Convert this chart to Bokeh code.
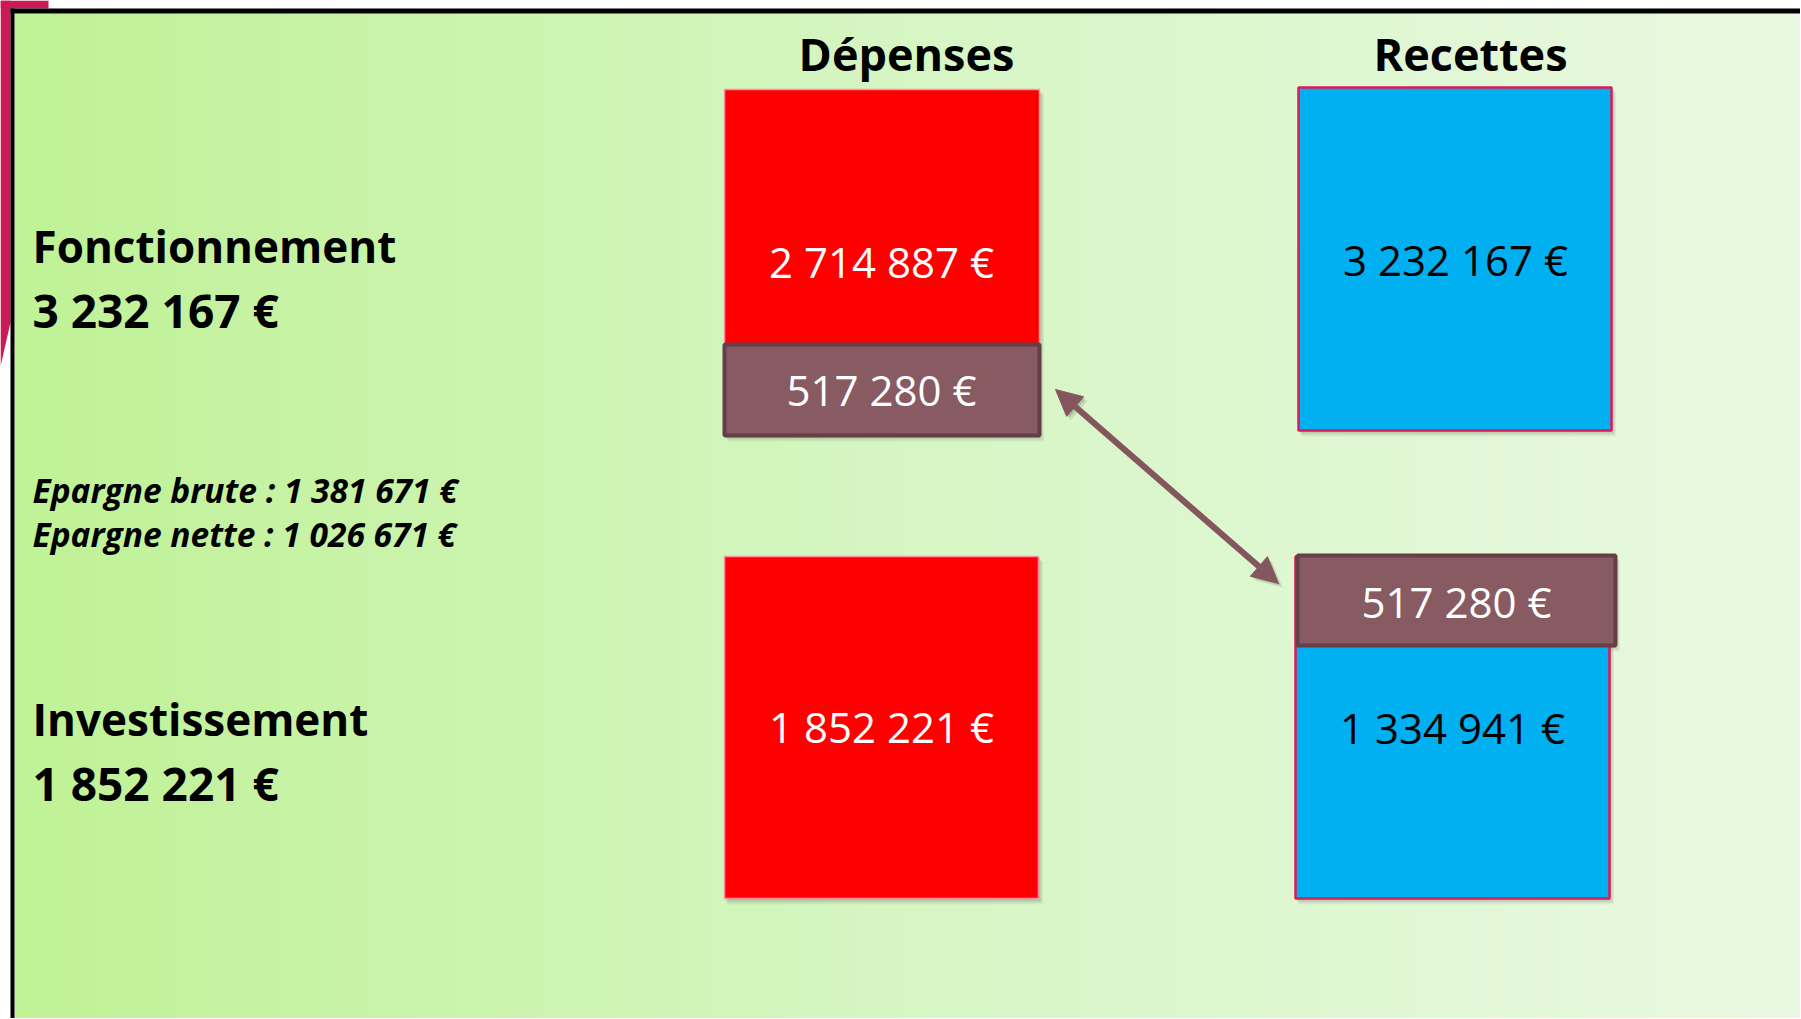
import numpy as np
from bokeh.plotting import figure
from bokeh.models import Range1d, Arrow, NormalHead
from bokeh.core.properties import value
from bokeh.embed import file_html
from bokeh.resources import INLINE

# ---------------- data ----------------
column_titles = ["Dépenses", "Recettes"]
sections = ["Fonctionnement", "Investissement"]
section_totals = [3232167, 1852221]
depenses = [2714887, 1852221]
recettes = [3232167, 1334941]
virement = 517280
epargne_labels = ["Epargne brute", "Epargne nette"]
epargne_values = [1381671, 1026671]


def fmt(v):
    return f"{v:,}".replace(",", " ") + " €"


# ---------------- layout (screen pixels) ----------------
W, H = 1800, 1018
X0, Y0 = 0, 0
FONT = value("Open Sans")

p = figure(width=W, height=H, output_backend="svg", toolbar_location=None,
           x_range=Range1d(X0, X0 + W), y_range=Range1d(Y0 + H, Y0),
           min_border=0, background_fill_color="white", border_fill_color="white")
p.axis.visible = False
p.grid.visible = False
p.outline_line_color = None

# background gradient
xs = np.arange(14, X0 + W + 1)
stops_x = [14, 900, 1800]
stops_r = [192, 214, 234]
stops_g = [242, 246, 249]
stops_b = [150, 196, 226]
r = np.interp(xs, stops_x, stops_r).astype(np.uint32)
g = np.interp(xs, stops_x, stops_g).astype(np.uint32)
b = np.interp(xs, stops_x, stops_b).astype(np.uint32)
row = (255 << 24) | (b << 16) | (g << 8) | r
img = np.vstack([row, row]).astype(np.uint32)
p.image_rgba(image=[img], x=14, y=13, dw=len(xs), dh=H + 10)

# frame lines and magenta strip
p.patch([0, 10, 10, 0], [0, 0, 322, 366], fill_color="#CC1A56", line_color=None)
p.patch([0, 48, 48, 0], [0, 0, 8, 8], fill_color="#CC1A56", line_color=None)
p.quad(left=[10], right=[X0 + W], top=[8], bottom=[13], fill_color="black", line_color=None)
p.quad(left=[10], right=[14], top=[8], bottom=[Y0 + H], fill_color="black", line_color=None)


def shadow(l, r_, t, b_):
    for k in range(1, 6):
        p.quad(left=[l + k * 0.6], right=[r_ + k * 0.9], top=[t + k], bottom=[b_ + k * 1.2],
               fill_color="black", fill_alpha=0.045, line_color=None)


RED, BLUE, BROWN = "#FF0000", "#00B0F0", "#885A62"
RED_EDGE, BLUE_EDGE, BROWN_EDGE = "#FF8FA6", "#DC1A5A", "#653E47"

boxes = [
    # left, right, top, bottom, fill, edge, width
    (724, 1039, 89, 344, RED, RED_EDGE, 1.5),
    (1298, 1611, 87, 430, BLUE, BLUE_EDGE, 2.5),
    (724, 1038, 556, 898, RED, RED_EDGE, 1.5),
    (1295, 1609, 556, 898, BLUE, BLUE_EDGE, 2.5),
    (724, 1039, 344, 435, BROWN, BROWN_EDGE, 4),
    (1297, 1615, 555, 645, BROWN, BROWN_EDGE, 4),
]
for (l, r_, t, b_, fc, lc, lw) in boxes:
    shadow(l, r_, t, b_)
for (l, r_, t, b_, fc, lc, lw) in boxes:
    p.quad(left=[l], right=[r_], top=[t], bottom=[b_], fill_color=fc,
           line_color=lc, line_width=lw)

# arrow (with soft shadow)
for k, a in [(4, 0.10), (2, 0.12)]:
    p.add_layout(Arrow(x_start=1055 + k, y_start=389 + k, x_end=1278 + k, y_end=583 + k,
                       line_color="black", line_alpha=a, line_width=6,
                       start=NormalHead(size=26, fill_color="black", fill_alpha=a, line_color=None),
                       end=NormalHead(size=26, fill_color="black", fill_alpha=a, line_color=None)))
p.add_layout(Arrow(x_start=1055, y_start=389, x_end=1278, y_end=583,
                   line_color="#86565F", line_width=6,
                   start=NormalHead(size=26, fill_color="#86565F", line_color="#86565F", line_width=1),
                   end=NormalHead(size=26, fill_color="#86565F", line_color="#86565F", line_width=1)))


def txt(x, y, s, size, color="black", style="normal", align="left"):
    # y is the visual baseline; compensate renderer's baseline placement
    p.text(x=[x], y=[y - 0.39 * size], text=[s], text_font=FONT, text_font_size=f"{size}px",
           text_font_style=style, text_color=color, text_align=align,
           text_baseline="alphabetic")


# column titles
txt(906, 71, column_titles[0], 45, style="bold", align="center")
txt(1470, 71, column_titles[1], 45, style="bold", align="center")

# section labels
txt(32, 263, sections[0], 44, style="bold")
txt(32, 327, fmt(section_totals[0]), 46, style="bold")
txt(32, 736, sections[1], 44, style="bold")
txt(32, 800, fmt(section_totals[1]), 46, style="bold")

# epargne
txt(32, 503, f"{epargne_labels[0]} : {fmt(epargne_values[0])}", 33.5, style="bold italic")
txt(32, 547, f"{epargne_labels[1]} : {fmt(epargne_values[1])}", 33.5, style="bold italic")

# values inside boxes
txt(881, 277, fmt(depenses[0]), 42, color="white", align="center")
txt(881, 405, fmt(virement), 42, color="white", align="center")
txt(1455, 275, fmt(recettes[0]), 42, align="center")
txt(881, 742, fmt(depenses[1]), 42, color="white", align="center")
txt(1456, 617, fmt(virement), 42, color="white", align="center")
txt(1452, 743, fmt(recettes[1]), 42, align="center")

open("out.html", "w").write(file_html(p, INLINE))
